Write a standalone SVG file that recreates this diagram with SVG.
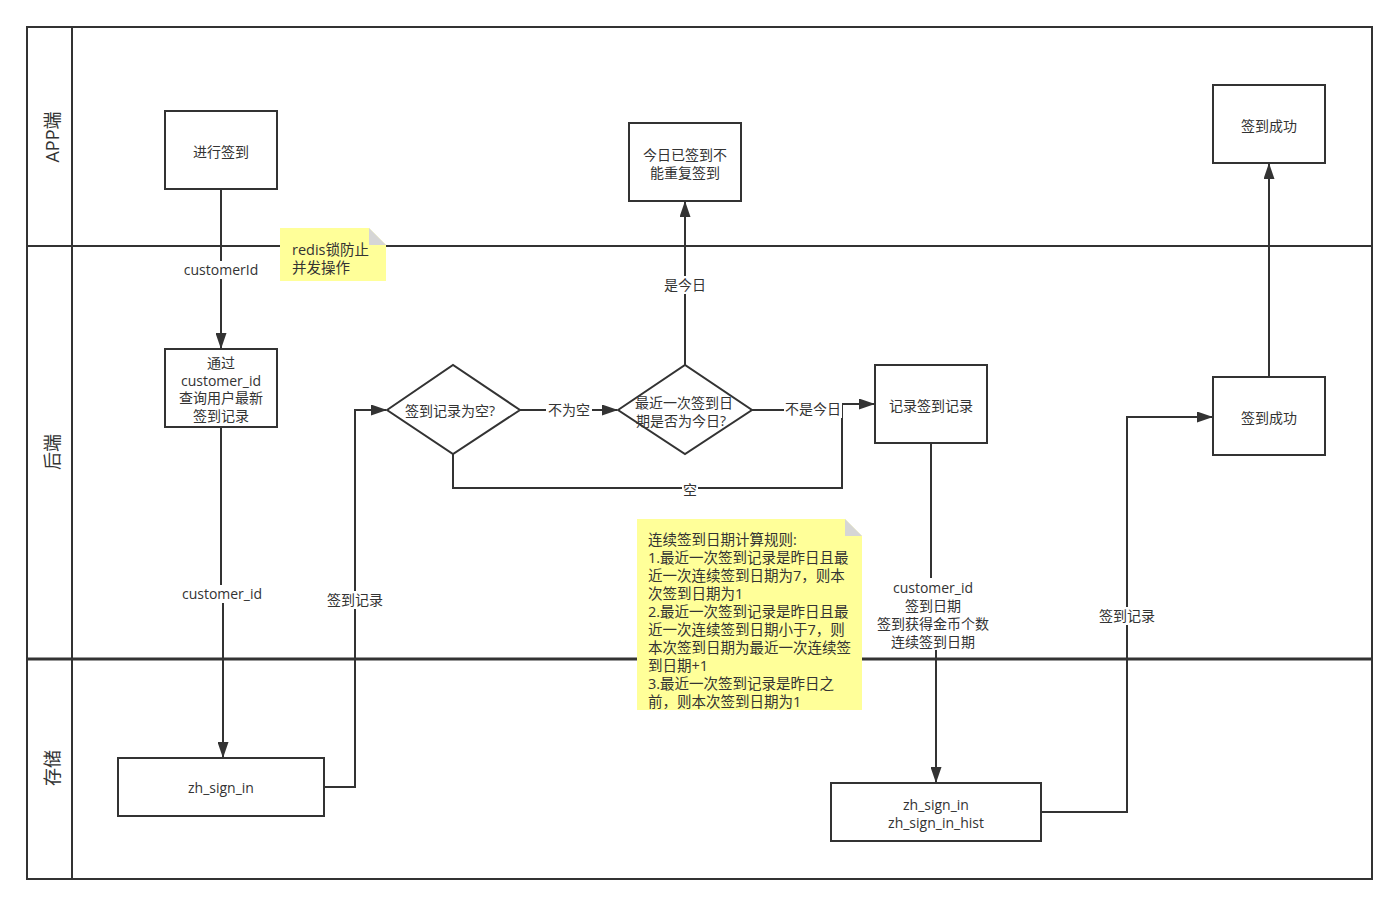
<svg xmlns="http://www.w3.org/2000/svg" width="1400" height="906" viewBox="0 0 1400 906">
<defs>
<marker id="arrL" viewBox="0 0 16 11" refX="15" refY="5.5" markerWidth="16" markerHeight="11" markerUnits="userSpaceOnUse" orient="auto">
<path d="M0,0 L16,5.5 L0,11 Z" fill="#333"/>
</marker>
</defs>
<style>
text{font-family:"Open Sans","Noto Sans CJK SC",sans-serif;font-size:14px;fill:#333;text-anchor:middle;}
.box{fill:#fff;stroke:#333;stroke-width:2;}
.lane{fill:none;stroke:#333;stroke-width:2;}
.thick{stroke-width:3;}
.edge{fill:none;stroke:#333;stroke-width:2;}
.note{fill:#ffff99;stroke:none;}
.fold{fill:#d6d6d6;}
.lbl{fill:#fff;}
.nt{text-anchor:start;font-size:14.5px;}
.lt{font-size:18px;}
</style>
<rect width="1400" height="906" fill="#fff"/>
<g id="lanes">
<rect class="lane" x="27" y="27" width="1345" height="852"/>
<line class="lane" x1="72" y1="27" x2="72" y2="879"/>
<line class="lane" x1="27" y1="246" x2="1372" y2="246"/>
<line class="lane thick" x1="27" y1="659" x2="1372" y2="659"/>
<text class="lt" transform="translate(59,137) rotate(-90)">APP端</text>
<text class="lt" transform="translate(59,452) rotate(-90)">后端</text>
<text class="lt" transform="translate(59,768) rotate(-90)">存储</text>
</g>
<g id="connectors">
<path class="edge" d="M221,189 V348" marker-end="url(#arrL)"/>
<path class="edge" d="M221,427 V600 H223 V757" marker-end="url(#arrL)"/>
<path class="edge" d="M324,787 H355 V410 H386" marker-end="url(#arrL)"/>
<path class="edge" d="M520,410 H617" marker-end="url(#arrL)"/>
<path class="edge" d="M453,454 V488 H842 V404 H874" marker-end="url(#arrL)"/>
<path class="edge" d="M752,410 H842"/>
<path class="edge" d="M685,365 V202" marker-end="url(#arrL)"/>
<path class="edge" d="M931,443 V612 H936 V782" marker-end="url(#arrL)"/>
<path class="edge" d="M1041,812 H1127 V417 H1212" marker-end="url(#arrL)"/>
<path class="edge" d="M1269,377 V164" marker-end="url(#arrL)"/>
<rect class="lbl" x="180" y="261" width="84" height="18"/>
<text x="221" y="275">customerId</text>
<rect class="lbl" x="178" y="585" width="88" height="18"/>
<text x="222" y="599">customer_id</text>
<rect class="lbl" x="326" y="591" width="58" height="18"/>
<text x="355" y="605">签到记录</text>
<rect class="lbl" x="546" y="401" width="46" height="18"/>
<text x="569" y="415">不为空</text>
<rect class="lbl" x="682" y="480" width="16" height="18"/>
<text x="690" y="495">空</text>
<rect class="lbl" x="784" y="400" width="58" height="18"/>
<text x="813" y="414">不是今日</text>
<rect class="lbl" x="662" y="276" width="46" height="18"/>
<text x="685" y="290">是今日</text>
<rect class="lbl" x="874" y="578" width="120" height="72"/>
<text x="933" y="593">customer_id</text>
<text x="933" y="611">签到日期</text>
<text x="933" y="629">签到获得金币个数</text>
<text x="933" y="647">连续签到日期</text>
<rect class="lbl" x="1098" y="607" width="58" height="18"/>
<text x="1127" y="621">签到记录</text>
</g>
<g id="n-start">
<rect class="box" x="165" y="111" width="112" height="78"/>
<text x="221" y="157">进行签到</text>
</g>
<g id="n-query">
<rect class="box" x="165" y="349" width="112" height="78"/>
<text x="221" y="368">通过</text>
<text x="221" y="386">customer_id</text>
<text x="221" y="403">查询用户最新</text>
<text x="221" y="421">签到记录</text>
</g>
<g id="n-db1">
<rect class="box" x="118" y="758" width="206" height="58"/>
<text x="221" y="793">zh_sign_in</text>
</g>
<g id="n-empty">
<polygon class="box" points="387,410 453,365 520,410 453,454"/>
<text x="450" y="416">签到记录为空?</text>
</g>
<g id="n-today">
<polygon class="box" points="618,410 685,365 752,410 685,454"/>
<text x="684" y="408">最近一次签到日</text>
<text x="681" y="426">期是否为今日?</text>
</g>
<g id="n-repeat">
<rect class="box" x="629" y="123" width="112" height="78"/>
<text x="685" y="160">今日已签到不</text>
<text x="685" y="178">能重复签到</text>
</g>
<g id="n-record">
<rect class="box" x="875" y="365" width="112" height="78"/>
<text x="931" y="411">记录签到记录</text>
</g>
<g id="n-success-be">
<rect class="box" x="1213" y="377" width="112" height="78"/>
<text x="1269" y="423">签到成功</text>
</g>
<g id="n-success-app">
<rect class="box" x="1213" y="85" width="112" height="78"/>
<text x="1269" y="131">签到成功</text>
</g>
<g id="n-db2">
<rect class="box" x="831" y="783" width="210" height="58"/>
<text x="936" y="810">zh_sign_in</text>
<text x="936" y="828">zh_sign_in_hist</text>
</g>
<g id="note-redis">
<path class="note" d="M280,228 H369 L386,245 V281 H280 Z"/>
<path class="fold" d="M369,228 L386,245 H369 Z"/>
<text class="nt" x="292" y="255">redis锁防止</text>
<text class="nt" x="292" y="273">并发操作</text>
</g>
<g id="note-rules">
<path class="note" d="M637,519 H845 L862,536 V710 H637 Z"/>
<path class="fold" d="M845,519 L862,536 H845 Z"/>
<text class="nt" x="648" y="545">连续签到日期计算规则:</text>
<text class="nt" x="648" y="563">1.最近一次签到记录是昨日且最</text>
<text class="nt" x="648" y="581">近一次连续签到日期为7，则本</text>
<text class="nt" x="648" y="599">次签到日期为1</text>
<text class="nt" x="648" y="617">2.最近一次签到记录是昨日且最</text>
<text class="nt" x="648" y="635">近一次连续签到日期小于7，则</text>
<text class="nt" x="648" y="653">本次签到日期为最近一次连续签</text>
<text class="nt" x="648" y="671">到日期+1</text>
<text class="nt" x="648" y="689">3.最近一次签到记录是昨日之</text>
<text class="nt" x="648" y="707">前，则本次签到日期为1</text>
</g>
</svg>
